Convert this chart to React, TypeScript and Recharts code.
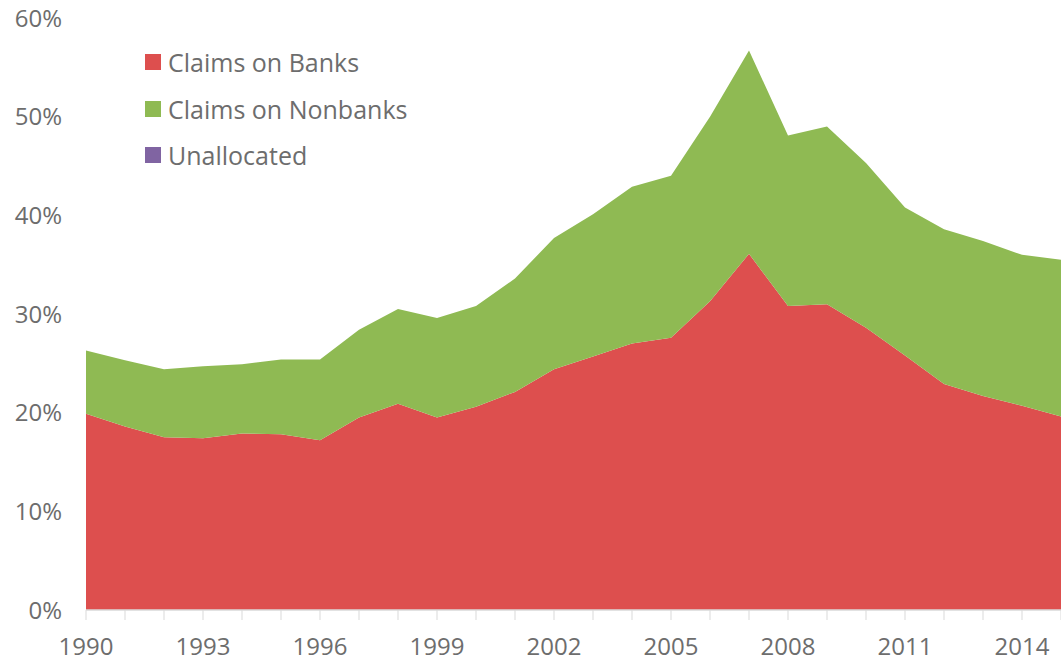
import { AreaChart, Area, XAxis, YAxis, Legend } from 'recharts';

const years = [
  1990, 1991, 1992, 1993, 1994, 1995, 1996, 1997, 1998, 1999, 2000, 2001, 2002,
  2003, 2004, 2005, 2006, 2007, 2008, 2009, 2010, 2011, 2012, 2013, 2014, 2015,
];
const banks = [
  19.9, 18.6, 17.5, 17.4, 17.9, 17.8, 17.2, 19.5, 20.9, 19.5, 20.6, 22.1, 24.4,
  25.7, 27.0, 27.6, 31.3, 36.1, 30.8, 31.0, 28.6, 25.8, 22.9, 21.7, 20.7, 19.6,
];
const nonbanks = [
  6.4, 6.7, 6.9, 7.3, 7.0, 7.6, 8.2, 8.9, 9.6, 10.1, 10.2, 11.5, 13.3,
  14.4, 15.9, 16.4, 18.7, 20.6, 17.3, 18.0, 16.7, 15.0, 15.7, 15.7, 15.3, 15.9,
];
const unallocated = years.map(() => 0);
const yTicks = [0, 10, 20, 30, 40, 50, 60];

const series = [
  { key: 'banks', name: 'Claims on Banks', color: '#dd4f4e' },
  { key: 'nonbanks', name: 'Claims on Nonbanks', color: '#8fba53' },
  { key: 'unallocated', name: 'Unallocated', color: '#8064a2' },
];

const data = years.map((year, i) => ({
  year,
  banks: banks[i],
  nonbanks: nonbanks[i],
  unallocated: unallocated[i],
}));

const FONT = '"Open Sans", sans-serif';
const TEXT = '#6d6d6d';

function YearTick({ x, y, payload }: any) {
  if ((payload.value - 1990) % 3 !== 0) return null;
  return (
    <text x={x} y={y} dy="0.71em" textAnchor="middle" fill={TEXT} fontSize={24} fontFamily={FONT}>
      {payload.value}
    </text>
  );
}

function ChartLegend() {
  return (
    <div style={{ fontFamily: FONT, fontSize: 25, color: TEXT }}>
      {series.map(s => (
        <div key={s.key} style={{ display: 'flex', alignItems: 'center', height: 46.5 }}>
          <span style={{ width: 16, height: 16, background: s.color, marginRight: 7, display: 'inline-block' }} />
          <span>{s.name}</span>
        </div>
      ))}
    </div>
  );
}

export default function App() {
  return (
    <div style={{ width: 1061, height: 667, background: '#fff' }}>
      <style>{'body{margin:0}'}</style>
      <AreaChart width={1061} height={667} data={data} margin={{ top: 18, right: 0, bottom: 0, left: 0 }}>
        <XAxis
          dataKey="year"
          type="number"
          domain={[1990, 2015]}
          ticks={years}
          interval={0}
          height={57}
          axisLine={{ stroke: '#d9d9d9', strokeWidth: 1.5 }}
          tickLine={{ stroke: '#d9d9d9' }}
          tickSize={10}
          tickMargin={18}
          tick={<YearTick />}
        />
        <YAxis
          domain={[0, 60]}
          ticks={yTicks}
          width={86}
          axisLine={false}
          tickLine={false}
          tickSize={0}
          tickMargin={24}
          tickFormatter={(v: number) => `${v}%`}
          tick={{ fill: TEXT, fontSize: 24, fontFamily: FONT }}
        />
        <Legend
          content={<ChartLegend />}
          layout="vertical"
          verticalAlign="middle"
          align="center"
          wrapperStyle={{ top: 39, left: 145, width: 320 }}
        />
        {series.map(s => (
          <Area
            key={s.key}
            type="linear"
            dataKey={s.key}
            name={s.name}
            stackId="1"
            stroke="none"
            fill={s.color}
            fillOpacity={1}
            isAnimationActive={false}
          />
        ))}
      </AreaChart>
    </div>
  );
}
